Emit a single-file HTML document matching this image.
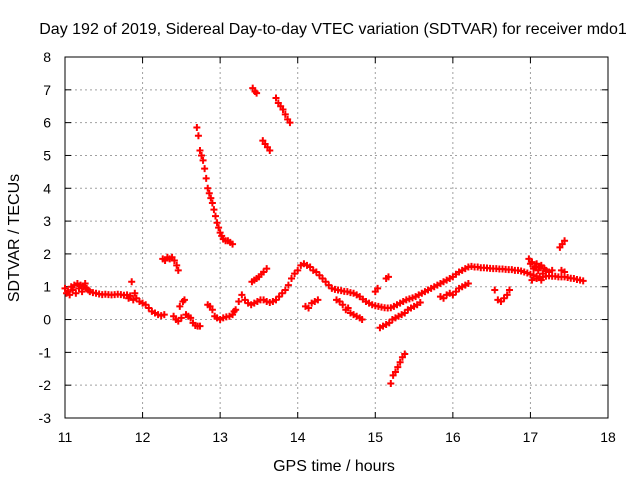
<!DOCTYPE html>
<html><head><meta charset="utf-8"><style>
body{margin:0;background:#fff;}
svg{display:block;font-family:"Liberation Sans",sans-serif;}
</style></head><body>
<svg id="chart" width="640" height="480" xmlns="http://www.w3.org/2000/svg">
<rect width="640" height="480" fill="#fff"/>
<g id="grid"></g>
<g id="axes"></g>
<g id="points"></g>
<text x="333" y="34" font-size="16" text-anchor="middle">Day 192 of 2019, Sidereal Day-to-day VTEC variation (SDTVAR) for receiver mdo1</text>
<text x="334" y="471" font-size="16" text-anchor="middle">GPS time / hours</text>
<text transform="translate(19,238) rotate(-90)" font-size="16" text-anchor="middle">SDTVAR / TECUs</text>
</svg>
<script>
const xTicks=[11,12,13,14,15,16,17,18];
const yTicks=[-3,-2,-1,0,1,2,3,4,5,6,7,8];
const segMorning=[[11.00,0.95],[11.02,0.8],[11.04,0.85],[11.06,0.75],[11.08,1.0],[11.10,0.9],[11.12,1.05],[11.14,0.8],[11.16,1.1],[11.18,0.95],[11.20,1.05],[11.22,0.85],[11.24,1.0],[11.26,1.1],[11.28,0.95],[11.30,0.9],[11.32,0.85],[11.36,0.82],[11.40,0.8],[11.44,0.78],[11.48,0.76],[11.52,0.77],[11.56,0.76],[11.60,0.75],[11.64,0.76],[11.68,0.77],[11.72,0.76],[11.76,0.74],[11.80,0.75],[11.82,0.65],[11.84,0.72],[11.86,1.15],[11.88,0.6],[11.90,0.8],[11.92,0.65],[11.96,0.55],[12.00,0.5],[12.04,0.45],[12.08,0.35],[12.12,0.25],[12.16,0.2],[12.20,0.15],[12.24,0.12],[12.28,0.15]];
const segBumpA=[[12.26,1.85],[12.29,1.8],[12.32,1.9],[12.35,1.85],[12.38,1.9],[12.41,1.8],[12.44,1.65],[12.46,1.5]];
const segDipA=[[12.40,0.1],[12.43,0.0],[12.46,-0.05],[12.48,0.4],[12.50,0.05],[12.52,0.55],[12.54,0.6],[12.56,0.15],[12.59,0.1],[12.62,0.05],[12.65,-0.1],[12.68,-0.18],[12.71,-0.2],[12.74,-0.2]];
const segSpikeA=[[12.70,5.85],[12.72,5.6],[12.74,5.15],[12.76,5.0],[12.78,4.85],[12.80,4.6],[12.82,4.3],[12.84,4.0],[12.86,3.85],[12.88,3.7],[12.90,3.55],[12.92,3.35],[12.94,3.15],[12.96,2.95],[12.98,2.8],[13.00,2.65],[13.02,2.55],[13.04,2.45],[13.07,2.4],[13.10,2.4],[13.13,2.35],[13.16,2.3]];
const segDipB=[[12.84,0.45],[12.87,0.4],[12.90,0.3],[12.93,0.1],[12.96,0.05],[13.00,0.0],[13.04,0.05],[13.08,0.08],[13.12,0.1],[13.16,0.15],[13.18,0.25]];
const segMain=[[13.20,0.3],[13.24,0.55],[13.28,0.75],[13.32,0.6],[13.36,0.5],[13.40,0.45],[13.44,0.5],[13.48,0.55],[13.52,0.6],[13.56,0.6],[13.60,0.55],[13.64,0.52],[13.68,0.55],[13.72,0.6],[13.76,0.7],[13.80,0.8],[13.84,0.9],[13.88,1.05],[13.92,1.25],[13.96,1.4],[14.00,1.5],[14.04,1.65],[14.08,1.7],[14.12,1.65],[14.16,1.6],[14.20,1.5],[14.24,1.45],[14.28,1.35],[14.32,1.25],[14.36,1.15],[14.40,1.05],[14.44,0.95],[14.48,0.92],[14.52,0.9],[14.56,0.88],[14.60,0.86],[14.64,0.85],[14.68,0.82],[14.72,0.8],[14.76,0.75],[14.80,0.7],[14.84,0.62],[14.88,0.55],[14.92,0.5],[14.96,0.45],[15.00,0.42],[15.04,0.4],[15.08,0.38],[15.12,0.36],[15.16,0.35],[15.20,0.36],[15.24,0.4],[15.28,0.45],[15.32,0.5],[15.36,0.55],[15.40,0.6],[15.44,0.63],[15.48,0.66],[15.52,0.7],[15.56,0.75],[15.60,0.8],[15.64,0.85],[15.68,0.9],[15.72,0.95],[15.76,1.0],[15.80,1.05],[15.84,1.1],[15.88,1.15],[15.92,1.2],[15.96,1.25],[16.00,1.3],[16.04,1.38],[16.08,1.45],[16.12,1.5],[16.16,1.55],[16.20,1.6],[16.24,1.62],[16.28,1.6],[16.32,1.6],[16.36,1.58],[16.40,1.58],[16.44,1.57],[16.48,1.56],[16.52,1.55],[16.56,1.55],[16.60,1.54],[16.64,1.54],[16.68,1.53],[16.72,1.52],[16.76,1.52],[16.80,1.5],[16.84,1.5],[16.88,1.48],[16.92,1.45],[16.96,1.42],[17.00,1.38],[17.04,1.35],[17.08,1.32],[17.12,1.3],[17.16,1.3],[17.20,1.32],[17.24,1.33],[17.28,1.32],[17.32,1.32],[17.36,1.3],[17.40,1.3],[17.44,1.3],[17.48,1.28],[17.52,1.26],[17.56,1.25],[17.60,1.22],[17.64,1.2],[17.68,1.18]];
const segBranchB=[[13.41,1.15],[13.44,1.2],[13.47,1.25],[13.50,1.3],[13.53,1.38],[13.56,1.45],[13.60,1.55]];
const segHighA=[[13.42,7.05],[13.45,6.95],[13.47,6.9]];
const segHighB=[[13.55,5.45],[13.58,5.35],[13.61,5.25],[13.64,5.15]];
const segHighC=[[13.72,6.75],[13.75,6.6],[13.78,6.5],[13.81,6.4],[13.84,6.25],[13.87,6.1],[13.90,6.0]];
const segBranchC=[[14.10,0.4],[14.14,0.35],[14.18,0.5],[14.22,0.55],[14.26,0.6]];
const segBranchD=[[14.50,0.6],[14.54,0.55],[14.58,0.45],[14.62,0.3],[14.65,0.35],[14.68,0.2],[14.72,0.15],[14.76,0.1],[14.80,0.05],[14.83,0.0]];
const segBranchE=[[15.06,-0.25],[15.10,-0.2],[15.14,-0.15],[15.18,-0.1],[15.22,0.0],[15.26,0.05],[15.30,0.1],[15.34,0.15],[15.38,0.2],[15.42,0.3],[15.46,0.35],[15.50,0.4],[15.54,0.45],[15.58,0.52]];
const segDeep=[[15.20,-1.95],[15.23,-1.7],[15.26,-1.6],[15.29,-1.45],[15.32,-1.3],[15.35,-1.15],[15.38,-1.05]];
const segSmall=[[15.00,0.85],[15.03,0.95],[15.14,1.25],[15.17,1.3]];
const segBranchF=[[15.84,0.7],[15.88,0.65],[15.92,0.75],[15.96,0.8],[16.00,0.75],[16.04,0.85],[16.08,0.95],[16.12,1.0],[16.16,1.05],[16.20,1.1]];
const segBranchG=[[16.54,0.9],[16.58,0.6],[16.62,0.55],[16.66,0.65],[16.70,0.75],[16.73,0.9]];
const segBlob=[[16.98,1.85],[17.00,1.7],[17.02,1.75],[17.04,1.55],[17.06,1.6],[17.08,1.7],[17.10,1.5],[17.12,1.6],[17.14,1.65],[17.16,1.4],[17.18,1.55],[17.20,1.5],[17.24,1.45],[17.28,1.5],[17.02,1.2],[17.08,1.25],[17.14,1.2],[17.40,1.5],[17.44,1.45]];
const segHighD=[[17.38,2.2],[17.41,2.3],[17.44,2.4]];
const segments=[segMorning,segBumpA,segDipA,segSpikeA,segDipB,segMain,segBranchB,segHighA,segHighB,segHighC,segBranchC,segBranchD,segBranchE,segDeep,segSmall,segBranchF,segBranchG,segBlob,segHighD];
const NS="http://www.w3.org/2000/svg";
const L=65,R=608,T=57,B=418;
const sx=v=>L+(v-11)/7*(R-L);
const sy=v=>B-(v+3)/11*(B-T);
const grid=document.getElementById('grid'),axes=document.getElementById('axes'),pts=document.getElementById('points');
function mk(tag,attrs,parent){const e=document.createElementNS(NS,tag);for(const k in attrs)e.setAttribute(k,attrs[k]);parent.appendChild(e);return e;}
xTicks.forEach(t=>{const x=sx(t);
 if(t>11&&t<18){const g=mk('line',{x1:x,y1:T,x2:x,y2:B,stroke:'#a0a0a0','stroke-dasharray':'2,3'},grid);}
 const a=mk('line',{x1:x,y1:B,x2:x,y2:B-6,stroke:'#000'},axes);
 const b=mk('line',{x1:x,y1:T,x2:x,y2:T+6,stroke:'#000'},axes);
 const l=mk('text',{x:x,y:B+24,'font-size':'14','text-anchor':'middle'},axes);l.textContent=t;});
yTicks.forEach(t=>{const y=sy(t);
 if(t>-3&&t<8){const g=mk('line',{x1:L,y1:y,x2:R,y2:y,stroke:'#a0a0a0','stroke-dasharray':'2,3'},grid);}
 const a=mk('line',{x1:L,y1:y,x2:L+6,y2:y,stroke:'#000'},axes);
 const b=mk('line',{x1:R,y1:y,x2:R-6,y2:y,stroke:'#000'},axes);
 const l=mk('text',{x:L-14,y:y+5,'font-size':'14','text-anchor':'end'},axes);l.textContent=t;});
const fr=mk('rect',{x:L,y:T,width:R-L,height:B-T,fill:'none',stroke:'#000'},axes);


let d='';
segments.forEach(seg=>seg.forEach(([t,v])=>{const x=sx(t),y=sy(v);d+=`M${x-3.5},${y}h7M${x},${y-3.5}v7`;}));
const p=mk('path',{d:d,stroke:'#f00','stroke-width':'2',fill:'none'},pts);


</script>
</body></html>
